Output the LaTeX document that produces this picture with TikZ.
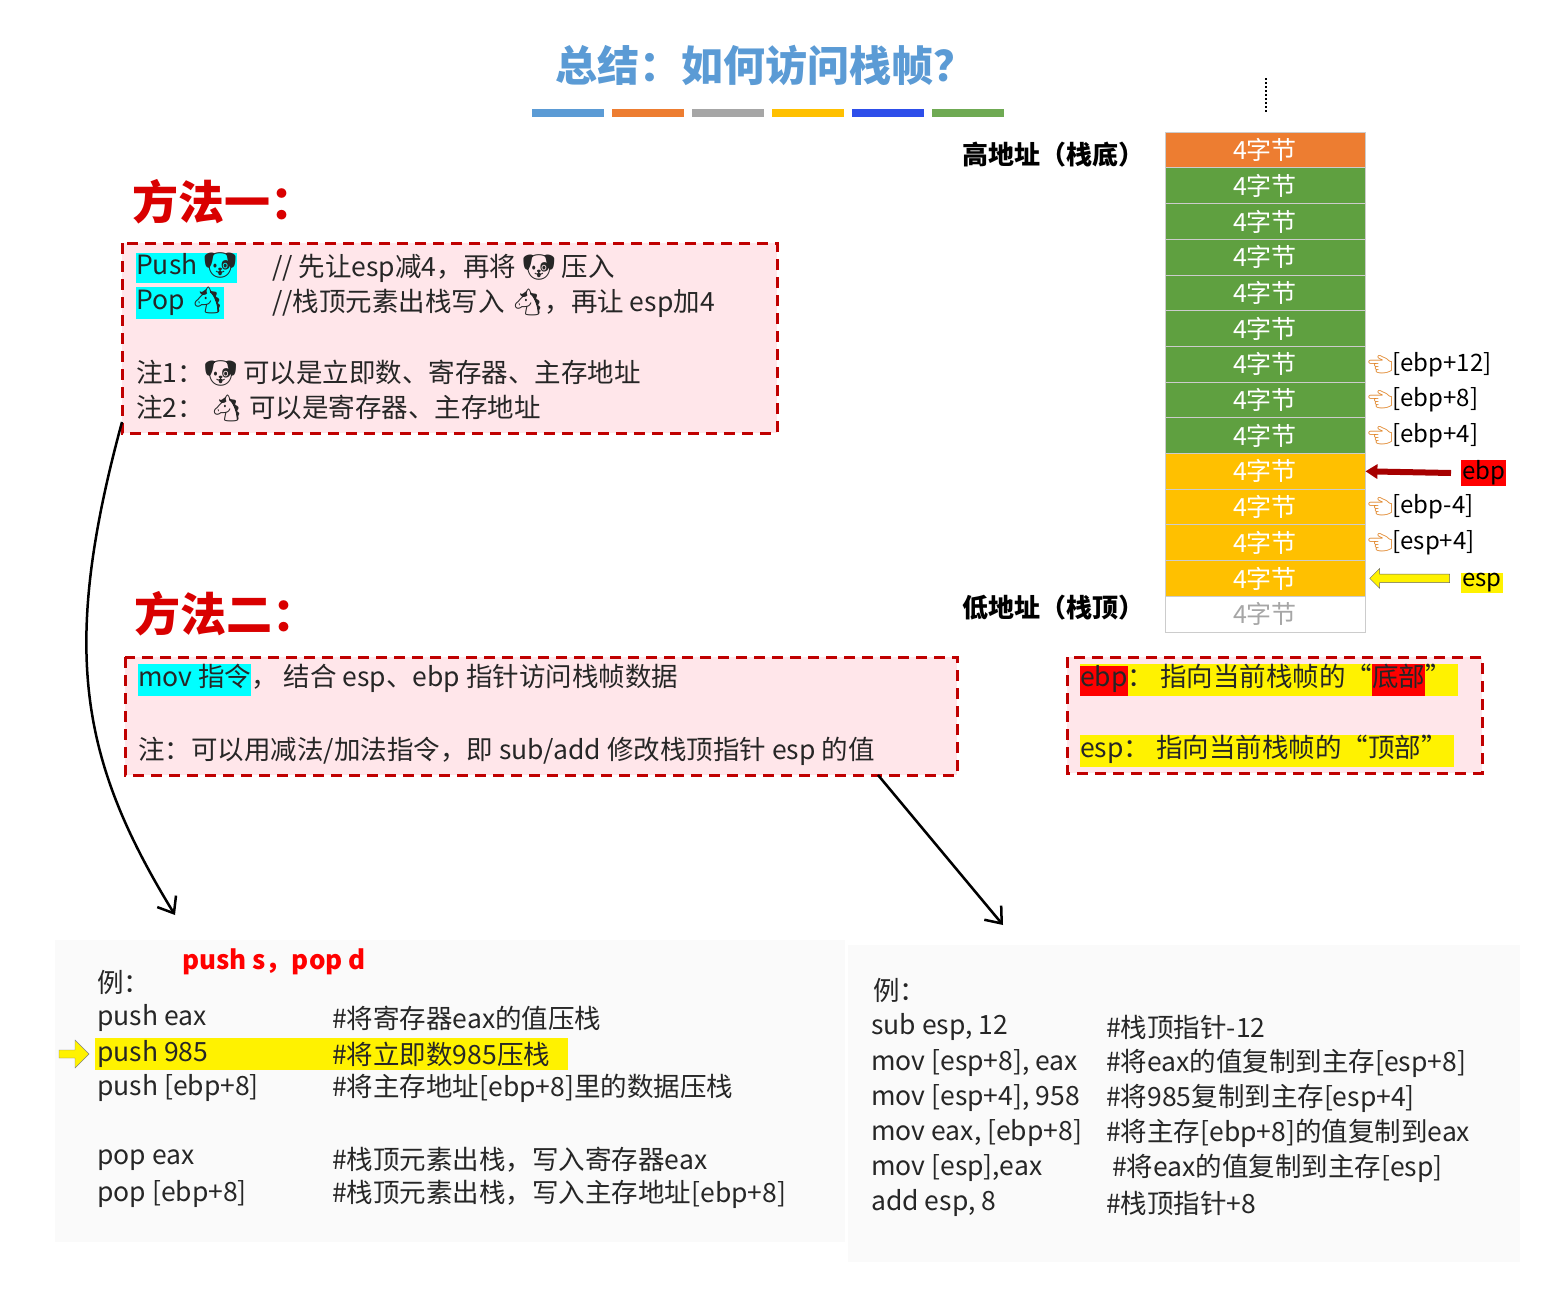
\documentclass[tikz,border=0pt]{standalone}
\usepackage{fontspec}
\setmainfont{Noto Sans CJK SC}
\newfontfamily\emo{Noto Emoji}
\usetikzlibrary{positioning,arrows.meta,shapes.arrows}
\definecolor{titleblue}{HTML}{5B9BD5}
\definecolor{stkorange}{HTML}{ED7D31}
\definecolor{stkgreen}{HTML}{5FA040}
\definecolor{stkyellow}{HTML}{FFC000}
\definecolor{boxred}{HTML}{C00000}
\definecolor{boxpink}{HTML}{FFE6EA}
\definecolor{cyanhl}{HTML}{00FFFF}
\setlength{\fboxsep}{0pt}
\tikzset{
  notebox/.style={draw=boxred,fill=boxpink,line width=3pt,dash pattern=on 11pt off 7pt},
  txt/.style={anchor=west,inner sep=0pt,font=\fontsize{26.5}{30}\selectfont,text=black!85},
  cell/.style={draw=white!80!black,line width=0.8pt,minimum width=200pt,minimum height=35.7pt,inner sep=0pt,
    text=white,font=\fontsize{25}{28}\selectfont},
  lbl/.style={anchor=west,inner sep=0pt,font=\fontsize{24}{28}\selectfont},
  hand/.style={anchor=west,inner sep=0pt,font=\emo\fontsize{20}{22}\selectfont,text=orange!50!brown}
}
\begin{document}
\begin{tikzpicture}[x=1pt,y=-1pt]
\useasboundingbox[fill=white] (0,0) rectangle (1543,1299);
% title
\node[inner sep=0pt,text=titleblue,font=\bfseries\fontsize{42}{48}\selectfont] (title) at (765,65) {总结：如何访问栈帧？};
\foreach \c [count=\i from 0] in {titleblue,stkorange,black!35,stkyellow,blue!50!titleblue,stkgreen!90}
  \fill[\c] (532+\i*80,109) rectangle ++(72,8);
\draw[line width=2pt,dotted] (1266,78) -- (1266,113);
% methods
\node[txt,text=red!85!black,font=\bfseries\fontsize{46}{52}\selectfont] (m1) at (132,202) {方法一：};
\node[txt,text=red!85!black,font=\bfseries\fontsize{46}{52}\selectfont] (m2) at (134,614) {方法二：};
% box one
\draw[notebox] (122,243) rectangle (777,433);
\node[txt] (push) at (136,268) {\colorbox{cyanhl}{\strut Push {\emo 🐶}}};
\node[txt] (pop) at (136,303) {\colorbox{cyanhl}{\strut Pop {\emo 🐴}}};
\node[txt] (pushc) at (272,268) {// 先让esp减4，再将 {\emo 🐶} 压入};
\node[txt] (popc) at (272,303) {//栈顶元素出栈写入 {\emo 🐴}，再让 esp加4};
\node[txt] (n1) at (136,373) {注1：{\emo 🐶} 可以是立即数、寄存器、主存地址};
\node[txt] (n2) at (136,408) {注2：\ {\emo 🐴} 可以是寄存器、主存地址};
% box two
\draw[notebox] (125,657) rectangle (957,775);
\node[txt] (mov) at (138,680) {\colorbox{cyanhl}{\strut mov 指令}，\ 结合 esp、ebp 指针访问栈帧数据};
\node[txt] (n3) at (138,751) {注：可以用减法/加法指令，即 sub/add 修改栈顶指针 esp 的值};
% box three
\draw[notebox] (1067,657) rectangle (1482,773);
\node[txt] (ebpd) at (1080,680) {\colorbox{yellow}{\strut\colorbox{red}{\strut ebp}：\ 指向当前栈帧的“\colorbox{red}{\strut 底部}”\ }};
\node[txt] (espd) at (1080,751) {\colorbox{yellow}{\strut esp：\ 指向当前栈帧的“顶部”\ }};
% stack
\foreach \col [count=\i from 0] in {stkorange,stkgreen,stkgreen,stkgreen,stkgreen,stkgreen,stkgreen,stkgreen,stkgreen,stkyellow,stkyellow,stkyellow,stkyellow}
  \node[cell,fill=\col] (c\i) at (1265,150+\i*35.7) {4字节};
\node[cell,fill=white,text=black!35] (c13) at (1265,150+13*35.7) {4字节};
\node[anchor=east,inner sep=0pt,font=\bfseries\fontsize{26}{28}\selectfont] (high) at (1145,155) {高地址（栈底）};
\node[anchor=east,inner sep=0pt,font=\bfseries\fontsize{26}{28}\selectfont] (low) at (1145,608) {低地址（栈顶）};
\foreach \r/\t in {6/{[ebp+12]},7/{[ebp+8]},8/{[ebp+4]},10/{[ebp-4]},11/{[esp+4]}}{
  \node[hand] (h\r) at ([xshift=2pt]c\r.east) {👈};
  \node[lbl] (l\r) at ([xshift=-1pt]h\r.east) {\t};
}
\node[lbl,fill=red,inner sep=1pt] (ebp) at (1461,473) {ebp};
\node[lbl,fill=yellow,inner sep=1pt] (esp) at (1461,583) {esp};
\draw[-{Triangle[length=12pt,width=14pt]},line width=6pt,red!65!black] (ebp.west) ++(-10pt,0) -- (c9.east);
\node[single arrow,shape border rotate=180,draw=black!60,fill=yellow,minimum height=80pt,minimum width=20pt,
  single arrow head extend=3pt,inner sep=2pt,anchor=tip] (esparr) at ([xshift=4pt]c12.east) {};
% connectors
\coordinate (ex1) at (175,915);
\coordinate (ex2) at (1003,925);
\draw[line width=2.5pt,-{Straight Barb[length=14pt,width=22pt]}] (122,422) .. controls (60,650) and (80,760) .. (ex1);
\draw[line width=2.5pt,-{Straight Barb[length=14pt,width=22pt]}] (878,775) -- (ex2);
% example left
\fill[black!2] (55,940) rectangle (845,1242);
\fill[yellow] (95,1038) rectangle (568,1070);
\node[single arrow,draw=black!50,fill=yellow,minimum height=30pt,minimum width=28pt,single arrow head extend=3pt,
  inner sep=1pt] (ptr) at (72,1054) {};
\node[txt,text=red,font=\bfseries\fontsize{26}{28}\selectfont] (ps) at (182,962) {push s，pop d};
\node[txt] (e1) at (97,982) {例：};
\foreach \y/\a/\b in {1018/push eax/\#将寄存器eax的值压栈,1054/push 985/\#将立即数985压栈,
  1088/{push [ebp+8]}/{\#将主存地址[ebp+8]里的数据压栈},1160/pop eax/\#栈顶元素出栈，写入寄存器eax,
  1194/{pop [ebp+8]}/{\#栈顶元素出栈，写入主存地址[ebp+8]}}{
  \node[txt] at (97,\y) {\a};
  \node[txt] at (332,\y) {\b};
}
% example right
\fill[black!2] (848,945) rectangle (1520,1262);
\node[txt] (e2) at (873,990) {例：};
\foreach \y/\a/\b in {1027/{sub esp, 12}/\#栈顶指针-12,1063/{mov [esp+8], eax}/{\#将eax的值复制到主存[esp+8]},
  1098/{mov [esp+4], 958}/{\#将985复制到主存[esp+4]},1133/{mov eax, [ebp+8]}/{\#将主存[ebp+8]的值复制到eax},
  1168/{mov [esp],eax}/{\ \#将eax的值复制到主存[esp]},1203/{add esp, 8}/\#栈顶指针+8}{
  \node[txt] at (871,\y) {\a};
  \node[txt] at (1106,\y) {\b};
}
\end{tikzpicture}
\end{document}
